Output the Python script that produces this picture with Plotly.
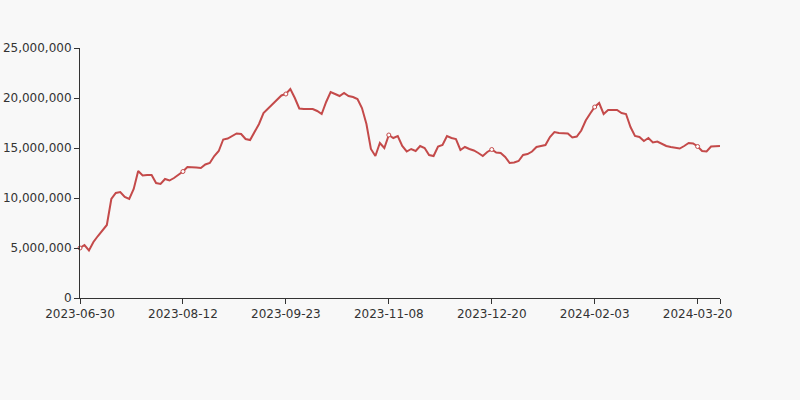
import plotly.graph_objects as go

# Category positions (index along the category axis) and values
values_m = [
    5.0, 5.3, 4.75, 5.6, 6.2, 6.7, 7.3, 9.9, 10.5, 10.6,
    10.1, 9.9, 10.9, 12.7, 12.25, 12.3, 12.3, 11.5, 11.4, 11.9,
    11.75, 12.0, 12.35, 12.65, 13.1, 13.1, 13.05, 13.0, 13.35, 13.5,
    14.2, 14.7, 15.85, 15.95, 16.2, 16.45, 16.4, 15.9, 15.8, 16.6,
    17.4, 18.5, 18.95, 19.35, 19.8, 20.25, 20.4, 20.9, 20.0, 18.95,
    18.9, 18.9, 18.9, 18.7, 18.4, 19.6, 20.6, 20.4, 20.2, 20.5,
    20.2, 20.1, 19.9, 19.0, 17.4, 14.9, 14.2, 15.5, 15.0, 16.3,
    16.0, 16.2, 15.2, 14.65, 14.9, 14.7, 15.2, 15.0, 14.3, 14.2,
    15.15, 15.3, 16.2, 16.0, 15.9, 14.8, 15.1, 14.9, 14.75, 14.5,
    14.2, 14.6, 14.85, 14.55, 14.5, 14.1, 13.5, 13.55, 13.7, 14.3,
    14.4, 14.65, 15.1, 15.2, 15.3, 16.1, 16.6, 16.5, 16.5, 16.45,
    16.05, 16.15, 16.75, 17.75, 18.45, 19.1, 19.5, 18.4, 18.8, 18.8,
    18.8, 18.5, 18.4, 17.1, 16.2, 16.1, 15.7, 16.0, 15.55, 15.65,
    15.4, 15.2, 15.1, 15.0, 14.95, 15.2, 15.5, 15.45, 15.15, 14.7,
    14.65, 15.15, 15.2, 15.2,
]
values = [v * 1_000_000 for v in values_m]
positions = list(range(len(values)))

tick_positions = [0, 23, 46, 69, 92, 115, 138]
tick_labels = ["2023-06-30", "2023-08-12", "2023-09-23", "2023-11-08",
               "2023-12-20", "2024-02-03", "2024-03-20"]
y_ticks = [0, 5_000_000, 10_000_000, 15_000_000, 20_000_000, 25_000_000]

line_color = "#c44a4a"
font = dict(family="DejaVu Sans", size=12, color="#333333")

fig = go.Figure()
fig.add_trace(go.Scatter(
    x=positions, y=values, mode="lines",
    line=dict(color=line_color, width=2),
    hoverinfo="skip", showlegend=False,
))
fig.add_trace(go.Scatter(
    x=tick_positions, y=[values[i] for i in tick_positions], mode="markers",
    marker=dict(symbol="circle", size=4, color="#ffffff",
                line=dict(color=line_color, width=1)),
    hoverinfo="skip", showlegend=False, cliponaxis=False,
))

fig.update_layout(
    width=800, height=400,
    margin=dict(l=80, r=80, t=48, b=102, autoexpand=False),
    paper_bgcolor="#f8f8f8", plot_bgcolor="#f8f8f8",
    font=font,
    xaxis=dict(
        range=[0, len(values) - 1],
        tickmode="array",
        tickvals=tick_positions + [len(values) - 1],
        ticktext=tick_labels + [""],
        showgrid=False, zeroline=False,
        showline=True, linecolor="#333333", linewidth=1,
        ticks="outside", ticklen=5, tickcolor="#333333",
        tickfont=font, automargin=False,
    ),
    yaxis=dict(
        range=[0, 25_000_000],
        tickmode="array", tickvals=y_ticks,
        tickformat=",",
        showgrid=False, zeroline=False,
        showline=True, linecolor="#333333", linewidth=1,
        ticks="outside", ticklen=5, tickcolor="#333333",
        tickfont=font, automargin=False,
    ),
)

fig.write_html(
    "out.html",
    config={"displayModeBar": False},
    post_script="document.body.style.margin='0';document.body.style.background='#f8f8f8';",
)
